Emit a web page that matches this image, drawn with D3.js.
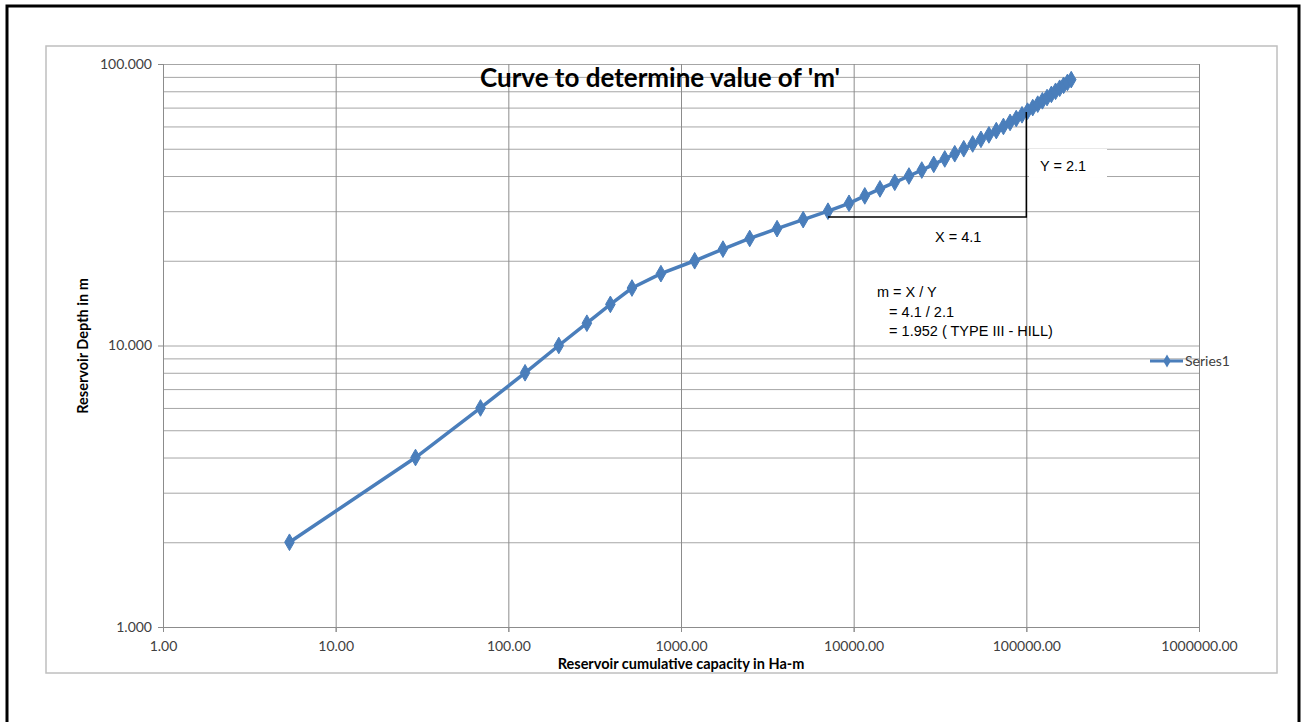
<!DOCTYPE html>
<html>
<head>
<meta charset="utf-8">
<script src="https://cdn.jsdelivr.net/npm/d3@7"></script>
<style>
  body { margin: 0; background: #fff; }
  svg { display: block; }
</style>
</head>
<body>
<div class="main"></div>
<script>
// Data
const depth = [2, 4, 6, 8, 10, 12, 14, 16, 18, 20, 22, 24, 26, 28, 30, 32, 34, 36, 38, 40, 42, 44,
               46, 48, 50, 52, 54, 56, 58, 60, 62, 64, 66, 68, 70, 72, 74, 76, 78, 80, 82, 84, 86, 88];
const capacity = [5.4, 29, 69, 125, 196, 285, 390, 520, 765, 1200, 1750, 2500, 3600, 5100, 7100,
                  9400, 11600, 14200, 17300, 20900, 24800, 29100, 33700, 38500, 43400, 48900,
                  54600, 60700, 67000, 73700, 80500, 87400, 94400, 101600, 108900, 116400,
                  123900, 131800, 139700, 147700, 156000, 164400, 173000, 182000];
const xTicks = [1, 10, 100, 1000, 10000, 100000, 1000000];
const yTicks = [1, 10, 100];
const yMinor = [2, 3, 4, 5, 6, 7, 8, 9, 20, 30, 40, 50, 60, 70, 80, 90];
const annoLines = ['m = X / Y', '   = 4.1 / 2.1', '   = 1.952 ( TYPE III - HILL)'];

//Variables
const width = 1306, height = 722,
      margin = {top: 64, left: 163, bottom: 95, right: 107},
      innerWidth = width - margin.left - margin.right,
      innerHeight = height - margin.top - margin.bottom,
      blue = '#4a7ebb',
      gridColor = '#a6a6a6';

const points = depth.map((d, i) => ({x: capacity[i], y: d}));

//Canvas
const svg = d3.select('.main').append('svg')
  .attr('width', width).attr('height', height);

// outer black frame
svg.append('path')
  .attr('d', 'M7,730 V6 H1299 V730')
  .attr('fill', 'none').attr('stroke', '#000').attr('stroke-width', 3);

// chart area border
svg.append('rect')
  .attr('x', 46).attr('y', 46).attr('width', 1231).attr('height', 627)
  .attr('fill', '#fff').attr('stroke', '#bfbfbf').attr('stroke-width', 1.5);

const g = svg.append('g').attr('transform', `translate(${margin.left},${margin.top})`);

//Scales
const xScale = d3.scaleLog().domain([1, 1000000]).range([0, innerWidth]);
const yScale = d3.scaleLog().domain([1, 100]).range([innerHeight, 0]);

//Grid
g.append('g').attr('class', 'grid')
  .call(d3.axisLeft(yScale).tickValues(yTicks.concat(yMinor)).tickSize(-innerWidth).tickFormat(''))
  .call(s => s.select('.domain').remove())
  .call(s => s.selectAll('text').remove())
  .call(s => s.selectAll('line').attr('stroke', gridColor));

g.append('g').attr('class', 'grid')
  .call(d3.axisBottom(xScale).tickValues(xTicks).tickSize(innerHeight + 5).tickFormat(''))
  .call(s => s.select('.domain').remove())
  .call(s => s.selectAll('text').remove())
  .call(s => s.selectAll('line').attr('stroke', '#8c8c8c'));

//Axes
const fontTick = 'Lato, "Open Sans", sans-serif';
g.append('g')
  .call(d3.axisLeft(yScale).tickValues(yTicks).tickFormat(d3.format('.3f')).tickSize(5).tickPadding(6))
  .call(s => s.select('.domain').attr('stroke', '#8c8c8c'))
  .call(s => s.selectAll('line').attr('stroke', '#8c8c8c'))
  .call(s => s.selectAll('text').attr('fill', '#404040').style('font-family', fontTick).style('font-size', '14px'));

g.append('g')
  .attr('transform', `translate(0,${innerHeight})`)
  .call(d3.axisBottom(xScale).tickValues(xTicks).tickFormat(d3.format('.2f')).tickSize(5).tickPadding(9))
  .call(s => s.select('.domain').attr('stroke', '#8c8c8c'))
  .call(s => s.selectAll('line').attr('stroke', '#8c8c8c'))
  .call(s => s.selectAll('text').attr('fill', '#404040').style('font-family', fontTick).style('font-size', '14px'));

//Title
svg.append('text')
  .attr('x', 660).attr('y', 87)
  .attr('text-anchor', 'middle')
  .style('font-family', fontTick).style('font-weight', 'bold').style('font-size', '26px')
  .attr('fill', '#000')
  .text("Curve to determine value of 'm'");

//Axis titles
svg.append('text')
  .attr('x', 681).attr('y', 669)
  .attr('text-anchor', 'middle')
  .style('font-family', fontTick).style('font-weight', 'bold').style('font-size', '14.5px')
  .text('Reservoir cumulative capacity in Ha-m');

svg.append('text')
  .attr('transform', 'translate(88,346) rotate(-90)')
  .attr('text-anchor', 'middle')
  .style('font-family', fontTick).style('font-weight', 'bold').style('font-size', '14.5px')
  .text('Reservoir Depth in m');

//Annotations (slope triangle)
const annoFont = '"Liberation Sans Narrow", "Liberation Sans", Arial, sans-serif';
svg.append('rect').attr('x', 1029).attr('y', 149).attr('width', 78).attr('height', 28).attr('fill', '#fff');

const cornerX = margin.left + xScale(100000);
const cornerY = 217;
svg.append('path')
  .attr('d', `M${margin.left + xScale(7100)},${cornerY} H${cornerX} V${margin.top + yScale(67.5)}`)
  .attr('fill', 'none').attr('stroke', '#000').attr('stroke-width', 1.5);

svg.append('text').attr('x', 1040).attr('y', 171)
  .style('font-family', annoFont).style('font-size', '14.5px').text('Y = 2.1');
svg.append('text').attr('x', 935).attr('y', 242)
  .style('font-family', annoFont).style('font-size', '14.5px').text('X = 4.1');

svg.append('text')
  .attr('x', 877).attr('y', 297)
  .style('font-family', annoFont).style('font-size', '14.5px')
  .selectAll('tspan').data(annoLines).enter().append('tspan')
  .attr('x', 877).attr('dy', (d, i) => i === 0 ? 0 : 19.5)
  .attr('xml:space', 'preserve')
  .style('white-space', 'pre')
  .text(d => d);

//Series line
const line = d3.line().x(d => xScale(d.x)).y(d => yScale(d.y));
g.append('path')
  .datum(points)
  .attr('d', line)
  .attr('fill', 'none').attr('stroke', blue).attr('stroke-width', 3.5);

const diamond = d3.symbol().type(d3.symbolDiamond).size(80);
g.selectAll('.pt')
  .data(points)
  .enter()
  .append('path')
  .attr('class', 'pt')
  .attr('d', diamond)
  .attr('transform', d => `translate(${xScale(d.x)},${yScale(d.y)})`)
  .attr('fill', blue).attr('stroke', blue);

//Legend
const lg = svg.append('g').attr('transform', 'translate(1150,361)');
lg.append('line').attr('x1', 0).attr('x2', 33).attr('stroke', blue).attr('stroke-width', 3);
lg.append('path').attr('d', d3.symbol().type(d3.symbolDiamond).size(50))
  .attr('transform', 'translate(17,0)').attr('fill', blue);
lg.append('text').attr('x', 35).attr('y', 5)
  .style('font-family', fontTick).style('font-size', '14px').attr('fill', '#404040')
  .text('Series1');
</script>
</body>
</html>
